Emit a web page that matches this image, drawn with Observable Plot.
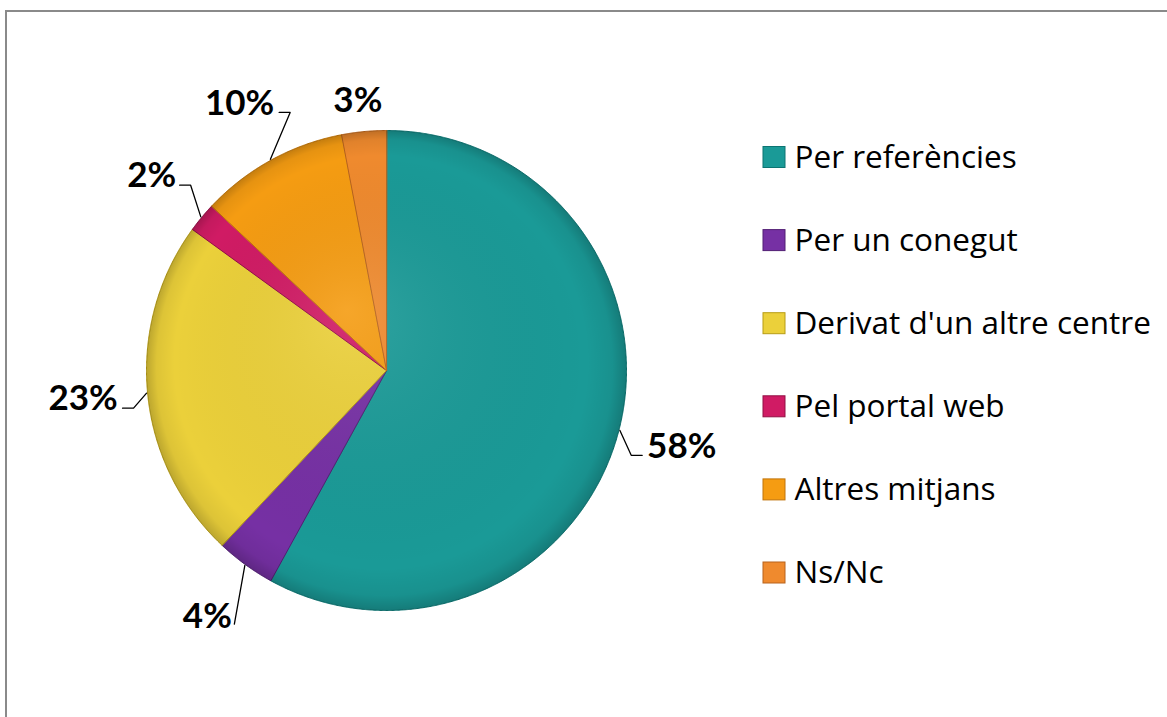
<!DOCTYPE html>
<html><head><meta charset="utf-8">
<script src="https://cdn.jsdelivr.net/npm/d3@7"></script>
<script src="https://cdn.jsdelivr.net/npm/@observablehq/plot@0.6"></script>
<style>
html,body{margin:0;padding:0;background:#fff;overflow:hidden;}
#frame{position:absolute;left:5px;top:10px;width:1300px;height:900px;border-left:2px solid #8a8a8a;border-top:2px solid #8a8a8a;}
#chart{position:absolute;left:0;top:0;}
g[aria-label="legend-text"] text{letter-spacing:0.7px;}
</style></head><body>
<div id="frame"></div><div id="chart"></div>
<script>
// ---- data ----
const categories = ["Per referències", "Per un conegut", "Derivat d'un altre centre", "Pel portal web", "Altres mitjans", "Ns/Nc"];
const values = [58, 4, 23, 2, 10, 3];
const colors = ["#1a9a97", "#7630a4", "#ebd03a", "#d01b64", "#f59c12", "#ef8a2e"];
const edgeColors = ["#0c7472", "#521f74", "#b79c14", "#921044", "#c0740a", "#b8631c"];

// ---- layout ----
const W = 1167, H = 717, cx = 386, cy = 370, R = 240;
const pie = d3.pie().sort(null).value(d => d)(values);
const pt = (a, r) => [cx + r * Math.sin(a), cy - r * Math.cos(a)];

const wedgePts = [];
pie.forEach((p, i) => {
  wedgePts.push({k: i, x: cx, y: cy});
  const n = Math.max(4, Math.ceil((p.endAngle - p.startAngle) / 0.005));
  for (let j = 0; j <= n; j++) {
    const a = p.startAngle + (p.endAngle - p.startAngle) * j / n;
    const [x, y] = pt(a, R);
    wedgePts.push({k: i, x, y});
  }
});
const disk = d3.range(0, 721).map(j => { const [x, y] = pt(j / 720 * 2 * Math.PI, R); return {x, y}; });
const shadowDisk = disk.map(d => ({x: d.x + 3, y: d.y + 6}));

// labels: at a fixed outer radius along the mid-angle, kept below the chart area's top
const LR = R * 1.27, topLimit = cy - R - 30;
const labelData = [], leaders = [];
pie.forEach((p, i) => {
  const m = (p.startAngle + p.endAngle) / 2;
  const dx = Math.sin(m), dy = -Math.cos(m);
  const txt = values[i] + "%";
  const hw = txt.length * 11.5;
  let [lx, ly] = pt(m, LR);
  ly = Math.max(ly, topLimit);
  labelData.push({x: lx, y: ly, t: txt});
  const [ex, ey] = pt(m, R + 1);
  if (Math.hypot(lx - ex, ly - ey) > 45) {
    const s = Math.sign(dx);
    if (dy > 0.5) {
      leaders.push({k: i, x: lx - s * (hw + 4), y: ly + 7}, {k: i, x: ex, y: ey});
    } else {
      const ax = lx - s * (hw + 5), ay = ly + 9;
      leaders.push({k: i, x: ax, y: ay}, {k: i, x: ax - s * 11, y: ay}, {k: i, x: ex, y: ey});
    }
  }
});

// legend
const legend = categories.map((c, i) => ({c, i, y: 157 + i * 83.1}));

const plot = Plot.plot({
  width: W, height: H, margin: 0,
  x: {domain: [0, W], range: [0, W], axis: null},
  y: {domain: [0, H], range: [0, H], axis: null},
  style: {fontFamily: "'Open Sans', Lato, sans-serif", background: "transparent"},
  marks: [
    Plot.line(shadowDisk, {x: "x", y: "y", curve: "linear-closed", fill: "#000", fillOpacity: 0.28, stroke: "none", ariaLabel: "shadow"}),
    Plot.line(wedgePts, {x: "x", y: "y", z: "k", curve: "linear-closed", fill: d => colors[d.k], stroke: d => edgeColors[d.k], strokeWidth: 1}),
    Plot.line(disk, {x: "x", y: "y", curve: "linear-closed", fill: "url(#shade)", stroke: "none"}),
    Plot.line(leaders, {x: "x", y: "y", z: "k", stroke: "#000", strokeWidth: 1.3}),
    Plot.text(labelData, {x: "x", y: "y", text: "t", fontSize: 35, fontWeight: 700, fontFamily: "Lato, sans-serif", fill: "#000"}),
    Plot.rect(legend, {x1: 763, x2: 785, y1: d => d.y - 10.5, y2: d => d.y + 10.5, fill: d => colors[d.i], stroke: d => edgeColors[d.i], strokeWidth: 1}),
    Plot.text(legend, {x: 794, y: "y", text: "c", textAnchor: "start", fontSize: 31.5, fill: "#000", ariaLabel: "legend-text"})
  ]
});
const defs = `<defs>
<radialGradient id="shade" gradientUnits="userSpaceOnUse" cx="${cx}" cy="${cy}" r="${R}" fx="${cx - 40}" fy="${cy - 60}">
<stop offset="0" stop-color="#fff" stop-opacity="0.10"/>
<stop offset="0.86" stop-color="#000" stop-opacity="0"/>
<stop offset="0.95" stop-color="#000" stop-opacity="0.06"/>
<stop offset="1" stop-color="#000" stop-opacity="0.2"/>
</radialGradient>
<filter id="blur"><feGaussianBlur stdDeviation="4"/></filter>
</defs>`;
plot.insertAdjacentHTML("afterbegin", defs);
const sh = plot.querySelector('g[aria-label="shadow"]');
if (sh) sh.setAttribute("filter", "url(#blur)");
document.getElementById("chart").appendChild(plot);
</script>
</body></html>
